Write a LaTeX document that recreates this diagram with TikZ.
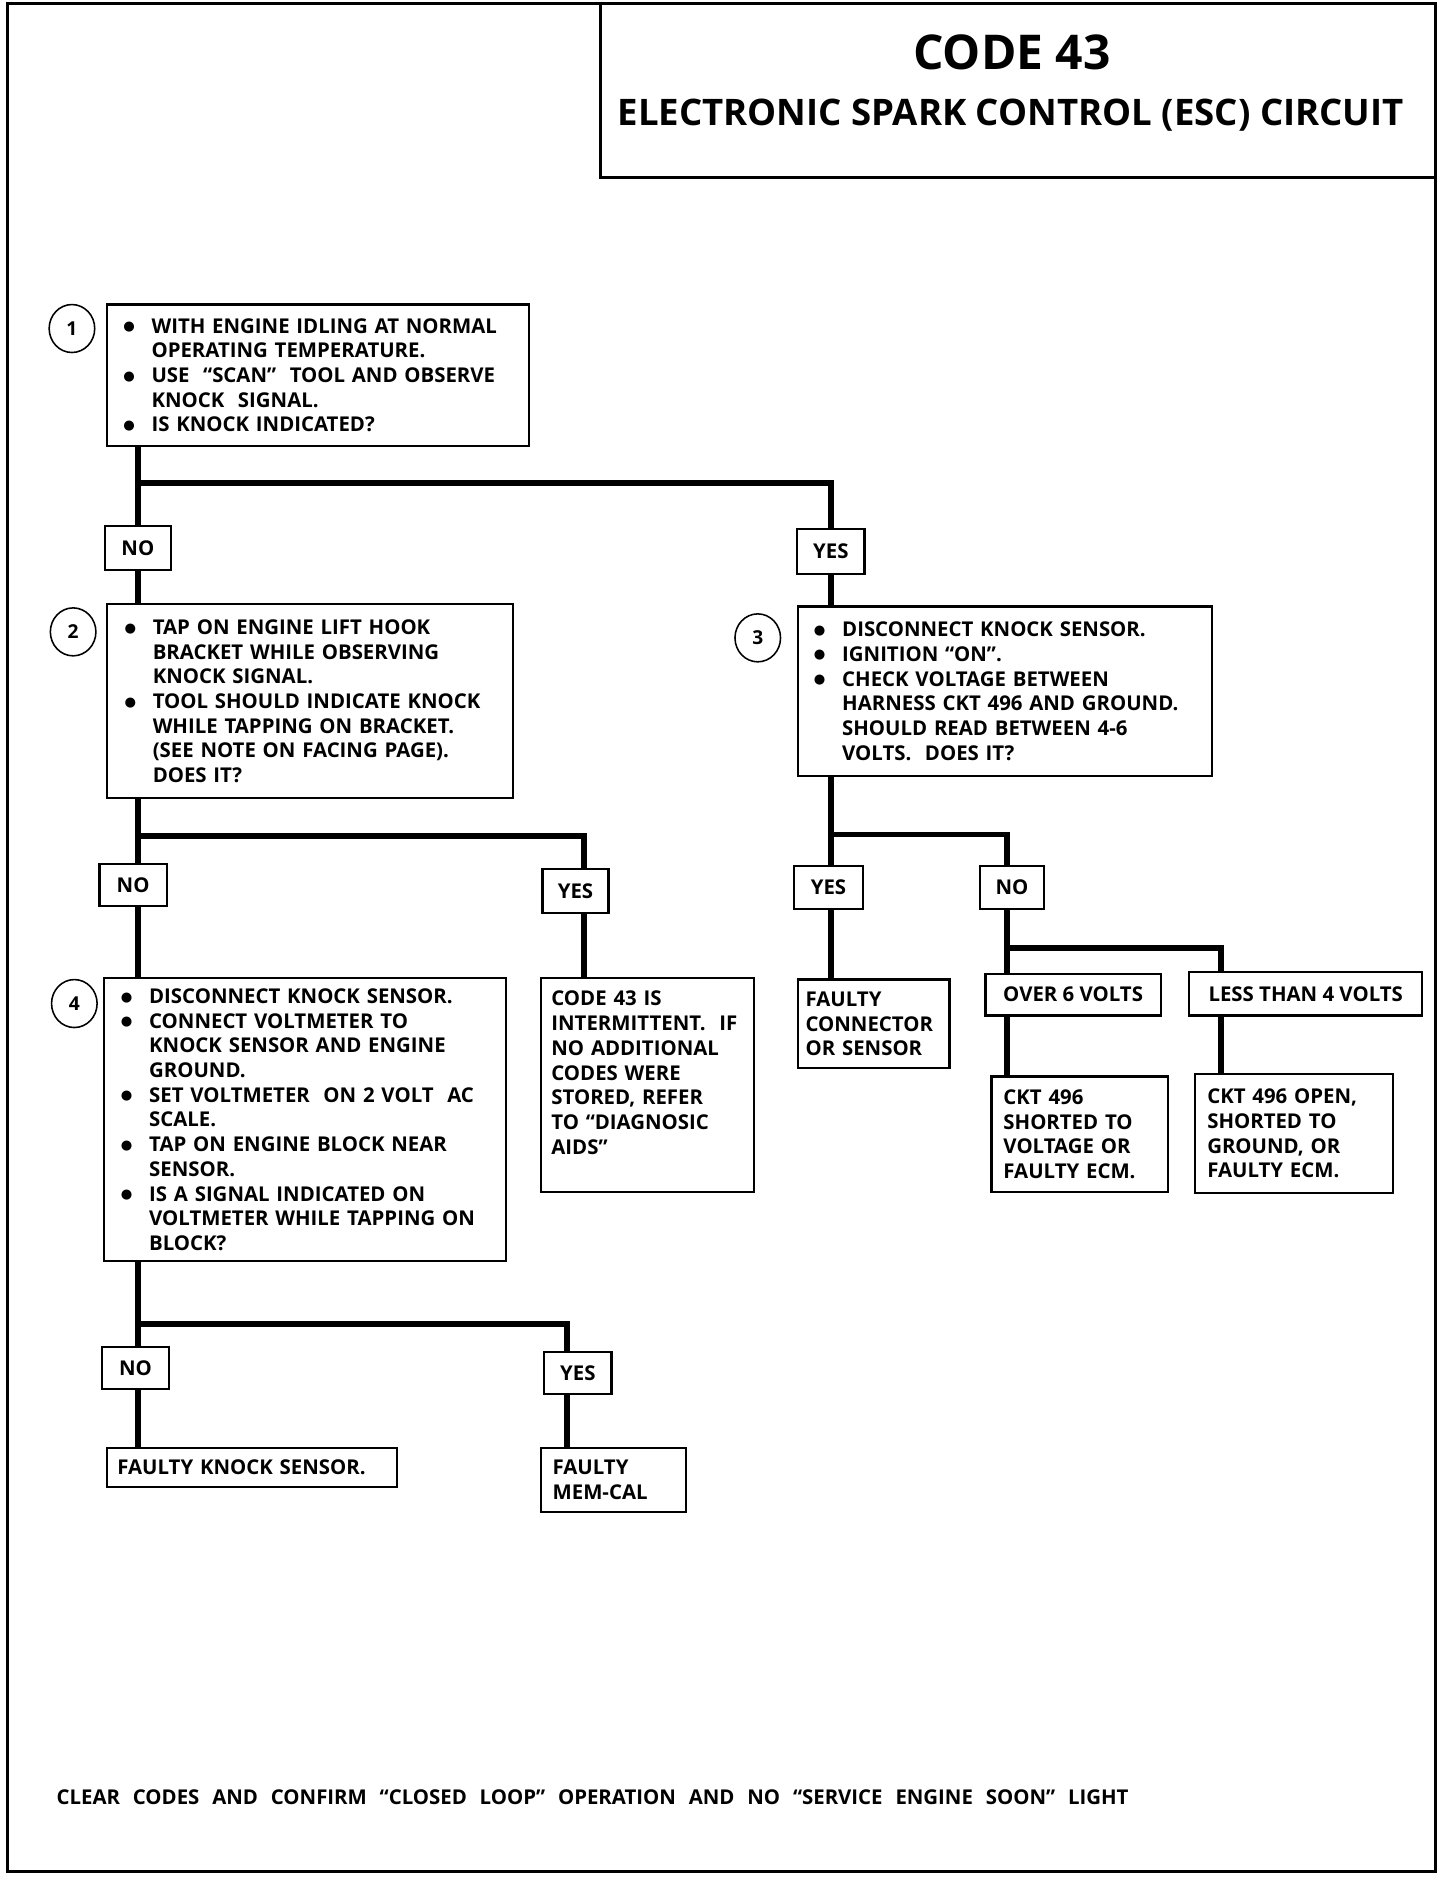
\documentclass[tikz,border=0pt]{standalone}
\usepackage{fontspec}
\setmainfont{Open Sans}
\newfontfamily\symfont{DejaVu Sans}
\usetikzlibrary{shapes.geometric}
\newcommand{\boxfont}{\fontsize{17}{20.6}\selectfont\bfseries}
\newcommand{\numfont}{\fontsize{16}{18}\selectfont\bfseries}
\newcommand{\bdot}{\raisebox{2pt}{\symfont\fontsize{11}{11}\selectfont ●}}
\newcommand{\bl}[1]{\mbox{\makebox[22.5pt][l]{\hspace*{-1pt}\bdot}#1}}
\newcommand{\ind}[1]{\mbox{\hspace*{22.5pt}#1}}
\newcommand{\tl}[1]{\mbox{#1}}
\begin{document}
\begin{tikzpicture}[x=1pt,y=-1pt,
  conn/.style={line width=5pt},
  frm/.style={line width=2.6pt},
  box/.style={draw, line width=1.8pt, anchor=north west, align=left, inner ysep=0pt, font=\boxfont},
  lbl/.style={draw, line width=1.8pt, inner sep=0pt, font=\boxfont},
  num/.style={draw, ellipse, line width=1.3pt, minimum width=38pt, minimum height=40pt, inner sep=0pt, font=\numfont},
]
\useasboundingbox (0,0) rectangle (1214,1568);
% outer frame and title box
\draw[frm] (6,3) rectangle (1197,1561);
\draw[frm] (501,3) -- (501,148) -- (1197,148);
\node[font=\fontsize{40}{44}\selectfont\bfseries] (t1) at (844,44) {CODE 43};
\node[font=\fontsize{30.5}{36}\selectfont\bfseries] (t2) at (843,96) {ELECTRONIC SPARK CONTROL (ESC) CIRCUIT};

% step 1
\node[num] (n1) at (60,274) {1};
\node[box, inner xsep=15pt, text width=322pt, minimum height=118pt] (b1) at (88,253)
 {\bl{WITH ENGINE IDLING AT NORMAL}\\ \ind{OPERATING TEMPERATURE.}\\ \bl{USE\ \ “SCAN”\ \ TOOL AND OBSERVE}\\ \ind{KNOCK\ \ SIGNAL.}\\ \bl{IS KNOCK INDICATED?}};
\node[lbl, minimum width=55pt, minimum height=37pt] (no1) at (115,457) {NO};
\node[lbl, minimum width=56pt, minimum height=37pt] (yes1) at (693,460) {YES};

% step 2
\node[num] (n2) at (61,527) {2};
\node[box, inner xsep=16pt, text width=307pt, minimum height=162pt] (b2) at (88,503)
 {\bl{TAP ON ENGINE LIFT HOOK}\\ \ind{BRACKET WHILE OBSERVING}\\ \ind{KNOCK SIGNAL.}\\ \bl{TOOL SHOULD INDICATE KNOCK}\\ \ind{WHILE TAPPING ON BRACKET.}\\ \ind{(SEE NOTE ON FACING PAGE).}\\ \ind{DOES IT?}};

% step 3
\node[num] (n3) at (632,532) {3};
\node[box, inner xsep=14pt, text width=317pt, minimum height=141pt] (b3) at (665,505)
 {\bl{DISCONNECT KNOCK SENSOR.}\\ \bl{IGNITION “ON”.}\\ \bl{CHECK VOLTAGE BETWEEN}\\ \ind{HARNESS CKT 496 AND GROUND.}\\ \ind{SHOULD READ BETWEEN 4-6}\\ \ind{VOLTS.\ \ DOES IT?}};

\node[lbl, minimum width=56pt, minimum height=35pt] (no2) at (111,738) {NO};
\node[lbl, minimum width=55pt, minimum height=37pt] (yes2) at (480,743) {YES};
\node[lbl, minimum width=57pt, minimum height=36pt] (yes3) at (691,740) {YES};
\node[lbl, minimum width=53pt, minimum height=36pt] (no3) at (844,740) {NO};

% step 4
\node[num] (n4) at (62,837) {4};
\node[box, inner xsep=15pt, text width=305pt, minimum height=236pt] (b4) at (86,815)
 {\bl{DISCONNECT KNOCK SENSOR.}\\ \bl{CONNECT VOLTMETER TO}\\ \ind{KNOCK SENSOR AND ENGINE}\\ \ind{GROUND.}\\ \bl{SET VOLTMETER\ \ ON 2 VOLT\ \ AC}\\ \ind{SCALE.}\\ \bl{TAP ON ENGINE BLOCK NEAR}\\ \ind{SENSOR.}\\ \bl{IS A SIGNAL INDICATED ON}\\ \ind{VOLTMETER WHILE TAPPING ON}\\ \ind{BLOCK?}};

\node[box, inner xsep=9pt, text width=160pt, minimum height=178pt] (c43) at (450,815)
 {\tl{CODE 43 IS}\\ \tl{INTERMITTENT.\ \ IF}\\ \tl{NO ADDITIONAL}\\ \tl{CODES WERE}\\ \tl{STORED, REFER}\\ \tl{TO “DIAGNOSIC}\\ \tl{AIDS”}\\ \mbox{}};

\node[box, inner xsep=6pt, text width=114pt, minimum height=74pt] (fc) at (665,816)
 {\tl{FAULTY}\\ \tl{CONNECTOR}\\ \tl{OR SENSOR}};

\node[lbl, minimum width=146pt, minimum height=35pt] (over) at (895,829.5) {OVER 6 VOLTS};
\node[lbl, minimum width=194pt, minimum height=36pt] (less) at (1089,829) {LESS THAN 4 VOLTS};

\node[box, inner xsep=10pt, text width=127pt, minimum height=96pt] (ck1) at (826,897)
 {\tl{CKT 496}\\ \tl{SHORTED TO}\\ \tl{VOLTAGE OR}\\ \tl{FAULTY ECM.}};
\node[box, inner xsep=10pt, text width=145pt, minimum height=99pt] (ck2) at (996,895)
 {\tl{CKT 496 OPEN,}\\ \tl{SHORTED TO}\\ \tl{GROUND, OR}\\ \tl{FAULTY ECM.}};

\node[lbl, minimum width=56pt, minimum height=35pt] (no4) at (113,1141) {NO};
\node[lbl, minimum width=56pt, minimum height=35pt] (yes4) at (482,1145) {YES};

\node[box, inner xsep=9pt, text width=224pt, minimum height=32pt] (fks) at (88,1207)
 {\tl{FAULTY KNOCK SENSOR.}};
\node[box, inner xsep=10pt, text width=101pt, minimum height=53pt] (mem) at (450,1207)
 {\tl{FAULTY}\\ \tl{MEM-CAL}};

\node[anchor=west, inner sep=0pt, font=\fontsize{17}{20}\selectfont\bfseries] (foot) at (47,1499)
 {\makebox[894pt][s]{CLEAR CODES AND CONFIRM “CLOSED LOOP” OPERATION AND NO “SERVICE ENGINE SOON” LIGHT}};

% junction coordinates
\coordinate (j1) at (115,403);
\coordinate (k1) at (693,403);
\coordinate (j2) at (115,697);
\coordinate (k2) at (487,697);
\coordinate (j3) at (693,696);
\coordinate (k3) at (840,696);
\coordinate (j4) at (840,791);
\coordinate (k4) at (1018,791);
\coordinate (j5) at (115,1104);
\coordinate (k5) at (473,1104);

% connectors
\draw[conn] (b1.south -| j1) -- (no1.north -| j1);
\draw[conn] (j1) -- (k1) -- (yes1.north -| k1);
\draw[conn] (no1.south -| j1) -- (b2.north -| j1);
\draw[conn] (yes1.south -| k1) -- (b3.north -| k1);

\draw[conn] (b2.south -| j2) -- (no2.north -| j2);
\draw[conn] (j2) -- (k2) -- (yes2.north -| k2);
\draw[conn] (no2.south -| j2) -- (b4.north -| j2);
\draw[conn] (yes2.south -| k2) -- (c43.north -| k2);

\draw[conn] (b3.south -| j3) -- (yes3.north -| j3);
\draw[conn] (j3) -- (k3) -- (no3.north -| k3);
\draw[conn] (yes3.south -| j3) -- (fc.north -| j3);
\draw[conn] (no3.south -| j4) -- (over.north -| j4);
\draw[conn] (j4) -- (k4) -- (less.north -| k4);
\draw[conn] (over.south -| j4) -- (ck1.north -| j4);
\draw[conn] (less.south -| k4) -- (ck2.north -| k4);

\draw[conn] (b4.south -| j5) -- (no4.north -| j5);
\draw[conn] (j5) -- (k5) -- (yes4.north -| k5);
\draw[conn] (no4.south -| j5) -- (fks.north -| j5);
\draw[conn] (yes4.south -| k5) -- (mem.north -| k5);
\end{tikzpicture}
\end{document}
